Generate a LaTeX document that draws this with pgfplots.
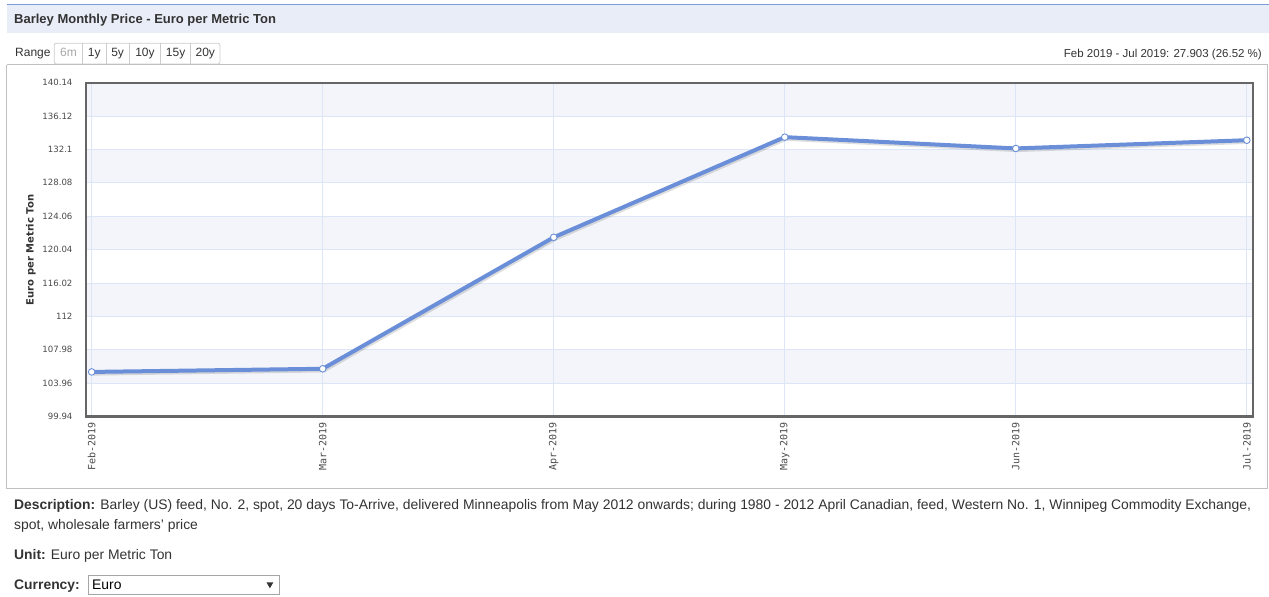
\documentclass[border=0pt]{standalone}
\usepackage{pgfplots}
\usepackage{pgfplotstable}
\pgfplotsset{compat=1.18}
\usepackage{fontspec}
\setmainfont{Liberation Sans}
\newfontfamily\verd{DejaVu Sans}
\newfontfamily\mono{DejaVu Sans Mono}
\definecolor{linec}{HTML}{6A8FD8}
\definecolor{band}{HTML}{F4F5FA}
\definecolor{gridc}{HTML}{DCE6F7}
\definecolor{barbg}{HTML}{E8EDF8}
\definecolor{bartop}{HTML}{7C9BD6}
\definecolor{framec}{HTML}{C0C0C0}
\definecolor{axframe}{HTML}{666666}
\definecolor{txt}{HTML}{333333}
\definecolor{ticktxt}{HTML}{4A4A4A}
\definecolor{btnc}{HTML}{CCCCCC}

\pgfplotstableread{
x y
0 105.31
1 105.69
2 121.52
3 133.58
4 132.22
5 133.21
}\pricedata

\def\XL{-0.0238}
\def\XR{5.026}

\begin{document}
\begin{tikzpicture}
\path (0pt,0pt) rectangle (1269pt,597pt);
% title bar
\fill[barbg] (7pt,564pt) rectangle (1269pt,592pt);
\draw[bartop, line width=1pt] (7pt,592pt) -- (1269pt,592pt);
\node[anchor=base west, inner sep=0pt, font=\fontsize{13}{15}\selectfont\bfseries, text=txt] at (14pt,573pt) {Barley Monthly Price - Euro per Metric Ton};
% range buttons
\node[anchor=base west, inner sep=0pt, font=\fontsize{12}{14}\selectfont, text=txt] at (15pt,540pt) {Range};
\draw[btnc, line width=0.8pt, rounded corners=2pt] (54.3pt,533pt) rectangle (220pt,553.7pt);
\foreach \xx in {82.7,106,129.3,160.7,190.7} {\draw[btnc, line width=0.8pt] (\xx pt,533pt) -- (\xx pt,553.7pt);}
\node[anchor=base, inner sep=0pt, font=\fontsize{12}{14}\selectfont, text=gray!70] at (68.5pt,540pt) {6m};
\node[anchor=base, inner sep=0pt, font=\fontsize{12}{14}\selectfont, text=txt] at (94.35pt,540pt) {1y};
\node[anchor=base, inner sep=0pt, font=\fontsize{12}{14}\selectfont, text=txt] at (117.65pt,540pt) {5y};
\node[anchor=base, inner sep=0pt, font=\fontsize{12}{14}\selectfont, text=txt] at (145pt,540pt) {10y};
\node[anchor=base, inner sep=0pt, font=\fontsize{12}{14}\selectfont, text=txt] at (175.7pt,540pt) {15y};
\node[anchor=base, inner sep=0pt, font=\fontsize{12}{14}\selectfont, text=txt] at (205.35pt,540pt) {20y};
\node[anchor=base east, inner sep=0pt, font=\fontsize{11.5}{14}\selectfont, text=txt] at (1262.5pt,539pt) {Feb 2019 - Jul 2019: 27.903 (26.52 \%)};
% frame
\draw[framec, line width=1pt] (7pt,532pt) -- (1268.5pt,532pt);
\draw[framec, line width=1pt] (7pt,532pt) -- (7pt,108pt) -- (1268pt,108pt) -- (1268pt,532pt);
% y label
\node[rotate=90, inner sep=0pt, font=\verd\fontsize{10}{12}\selectfont\bfseries, text=txt] at (31pt,347pt) {Euro per Metric Ton};
\begin{axis}[
  at={(86.2pt,180.3pt)}, anchor=south west,
  width=1167.1pt, height=334pt, scale only axis,
  set layers,
  xmin=\XL, xmax=\XR,
  ymin=99.94, ymax=140.14,
  xtick={0,1,2,3,4,5},
  xticklabels={Feb-2019,Mar-2019,Apr-2019,May-2019,Jun-2019,Jul-2019},
  ytick={99.94,103.96,107.98,112,116.02,120.04,124.06,128.08,132.1,136.12,140.14},
  yticklabels={99.94,103.96,107.98,112,116.02,120.04,124.06,128.08,132.1,136.12,140.14},
  xticklabel style={rotate=90, anchor=east, inner sep=0pt, font=\mono\fontsize{10}{11}\selectfont, text=ticktxt},
  yticklabel style={anchor=east, inner sep=0pt, font=\verd\fontsize{8.6}{10}\selectfont, text=ticktxt},
  xticklabel shift=6pt,
  yticklabel shift=13.5pt,
  grid=major,
  major grid style={gridc, line width=0.8pt},
  axis line style={axframe, line width=2.2pt},
  major tick length=0pt,
  tick style={draw=none},
]
\addplot[on layer=axis background, draw=none, fill=band] coordinates {(\XL,136.12) (\XR,136.12) (\XR,140.14) (\XL,140.14)} -- cycle;
\addplot[on layer=axis background, draw=none, fill=band] coordinates {(\XL,128.08) (\XR,128.08) (\XR,132.1) (\XL,132.1)} -- cycle;
\addplot[on layer=axis background, draw=none, fill=band] coordinates {(\XL,120.04) (\XR,120.04) (\XR,124.06) (\XL,124.06)} -- cycle;
\addplot[on layer=axis background, draw=none, fill=band] coordinates {(\XL,112) (\XR,112) (\XR,116.02) (\XL,116.02)} -- cycle;
\addplot[on layer=axis background, draw=none, fill=band] coordinates {(\XL,103.96) (\XR,103.96) (\XR,107.98) (\XL,107.98)} -- cycle;
\addplot[black, opacity=0.13, line width=4pt, no marks] table[x expr=\thisrow{x}+0.005, y expr=\thisrow{y}-0.2] {\pricedata};
\addplot[linec, line width=4pt, mark=*, mark size=3.3pt, mark options={fill=white, draw=linec, line width=0.9pt}] table[x=x, y=y] {\pricedata};
\end{axis}
% description
\node[anchor=base west, inner sep=0pt, font=\fontsize{13.9}{16}\selectfont, text=txt] at (14pt,87pt) {\textbf{Description:} Barley (US) feed, No. 2, spot, 20 days To-Arrive, delivered Minneapolis from May 2012 onwards; during 1980 - 2012 April Canadian, feed, Western No. 1, Winnipeg Commodity Exchange,};
\node[anchor=base west, inner sep=0pt, font=\fontsize{13.9}{16}\selectfont, text=txt] at (14pt,67.5pt) {spot, wholesale farmers' price};
\node[anchor=base west, inner sep=0pt, font=\fontsize{13.9}{16}\selectfont, text=txt] at (14pt,37.5pt) {\textbf{Unit:} Euro per Metric Ton};
\node[anchor=base west, inner sep=0pt, font=\fontsize{13.9}{16}\selectfont, text=txt] at (14pt,7.5pt) {\textbf{Currency:}};
\draw[gray!70, line width=0.8pt] (88.5pt,2.7pt) rectangle (279.5pt,21pt);
\node[anchor=base west, inner sep=0pt, font=\fontsize{13.9}{16}\selectfont, text=black] at (92pt,7.5pt) {Euro};
\fill[black!80] (266.5pt,14.5pt) -- (273.5pt,14.5pt) -- (270pt,8.5pt) -- cycle;
\end{tikzpicture}
\end{document}
